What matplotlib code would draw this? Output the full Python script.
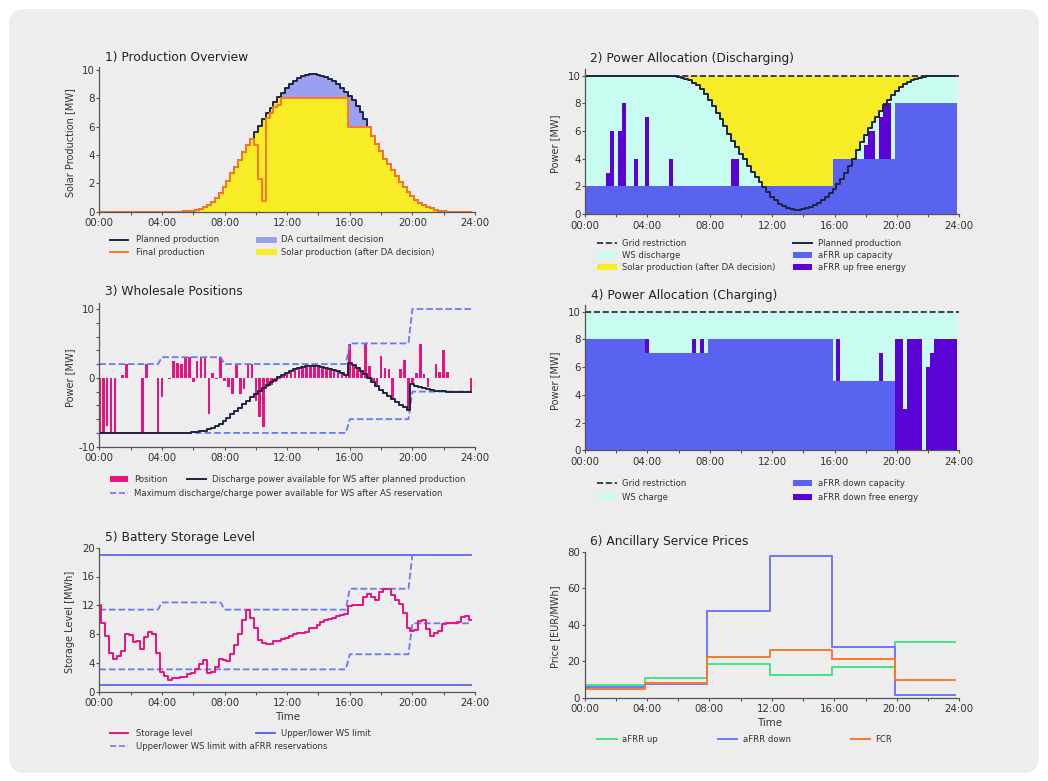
import numpy as np
import matplotlib
matplotlib.use("Agg")
import matplotlib.pyplot as plt
from matplotlib.patches import FancyBboxPatch, Patch
from matplotlib.lines import Line2D

plt.rcParams['font.family'] = ['DejaVu Sans']

# ---------------- data (15-min resolution, 96 intervals) ----------------
t = np.arange(96) * 0.25
hours = list(range(0, 25, 2))

planned = [0]*22 + [0.02, 0.04, 0.08, 0.13, 0.22, 0.33, 0.5, 0.7, 0.95, 1.3,
                    1.75, 2.2, 2.7, 3.15, 3.65, 4.2, 4.7, 5.15, 5.65, 6.05,
                    6.52, 6.94, 7.34, 7.72, 8.07, 8.4, 8.75, 9.0, 9.25, 9.45,
                    9.58, 9.65, 9.7, 9.7, 9.65, 9.58, 9.5, 9.35, 9.2, 9.0,
                    8.75, 8.47, 8.2, 7.85, 7.45, 7.05, 6.55, 6.0, 5.35, 4.8,
                    4.3, 3.75, 3.35, 2.95, 2.55, 2.1, 1.75, 1.4, 1.12, 0.85,
                    0.63, 0.47, 0.33, 0.23, 0.14, 0.07, 0.02] + [0]*7
da_limit = [10]*47 + [8]*17 + [6]*5 + [10]*27
final_dev_idx = [40, 41, 42, 43, 44, 45, 46]
final_dev_val = [4.7, 2.3, 0.75, 6.6, 6.95, 7.4, 7.5]

grid_limit = 10
afrr_up_cap = [2]*64 + [4]*16 + [8]*16
afrr_up_free = ([0]*6 + [1, 4, 0, 4, 6, 0, 0, 2, 0, 0, 5] + [0]*5 + [2] + [0]*15
                + [2, 2] + [0]*32 + [1, 2, 2, 0, 3, 4, 4] + [0]*17)

positions = [-8, -8, -7, -8, -8, 0, 0.4, 2.0, 0, 0, 0, -8, 2.0, 0, 0, -8,
             -2.8, 0, -0.1, 2.4, 2.2, 2.0, 3.0, 3.0, -0.6, 2.5, 3.0, 3.0, -5.3, 0.7, -0.1, 3.0,
             -0.5, -1.4, -2.3, 2.0, -2.4, -1.6, 2.0, 2.0, -3.3, -5.7, -7.1, -1.4, -1.0, -0.6, -0.2, 0.3,
             0.7, 1.0, 1.2, 1.4, 1.55, 1.65, 1.7, 1.7, 1.65, 1.55, 1.45, 1.3, 1.15, 0.95, 0.7, 0.45,
             4.9, 1.85, 1.45, 1.0, 5.0, 1.75, -0.65, -1.2, 3.15, 1.5, 1.25, -3.25, 0, 1.25, 2.6, -4.7,
             -1.0, 0.7, 4.9, 0.5, -1.4, 0, 2.0, 0.9, 4.0, 0.8, 0, 0, 0, 0, 0, -1.9]
ws_max_discharge = [2]*16 + [3]*16 + [2]*32 + [5]*16 + [10]*16
ws_max_charge = [-8]*64 + [-6]*16 + [-2]*16

afrr_down_cap = [8]*16 + [7]*16 + [8]*32 + [5]*16 + [0]*16
afrr_down_free = ([0]*16 + [1] + [0]*11 + [1, 0, 1] + [0]*34 + [3] + [0]*10 + [2] + [0]*3
                  + [8, 8, 3, 8, 8, 8, 8, 0, 6, 7, 8, 8, 8, 8, 8, 8])

storage = [12.0, 9.6, 7.7, 5.4, 4.5, 5.0, 5.7, 8.0, 7.9, 6.9, 7.0, 6.0, 7.6, 8.3, 8.0, 5.4,
           2.8, 2.2, 1.6, 1.85, 1.9, 2.1, 2.1, 2.4, 2.6, 3.2, 3.9, 4.4, 2.6, 2.7, 3.4, 4.6,
           4.4, 4.3, 5.2, 6.5, 8.0, 9.9, 11.4, 10.3, 8.8, 7.2, 6.7, 6.6, 6.6, 7.0, 7.1, 7.3,
           7.5, 7.7, 8.0, 8.2, 8.2, 8.3, 8.8, 8.9, 9.3, 9.7, 9.9, 10.1, 10.3, 10.5, 10.7, 10.8,
           11.9, 12.0, 12.1, 12.1, 13.1, 13.6, 13.1, 12.7, 13.8, 14.3, 14.3, 13.4, 12.7, 12.2, 10.9, 8.8,
           8.4, 8.6, 9.8, 9.9, 8.7, 7.7, 8.1, 8.4, 9.4, 9.5, 9.6, 9.6, 9.7, 10.4, 10.5, 10.0]
ws_upper_limit = 19
ws_lower_limit = 1
ws_upper_afrr = [11.4]*16 + [12.4]*16 + [11.4]*32 + [14.3]*16 + [19]*16
ws_lower_afrr = [3.1]*64 + [5.2]*16 + [9.5]*16

price_blocks = 16
afrr_up_price = [7.0, 10.9, 18.6, 12.2, 16.8, 30.5]
afrr_down_price = [6.0, 7.3, 47.5, 77.6, 28.0, 1.3]
fcr_price = [4.75, 7.85, 22.3, 26.1, 21.2, 9.7]

# ---------------- colours ----------------
navy = '#1c2541'
orange = '#f7792b'
yellow = '#f8ec27'
curt_blue = '#9a9ff1'
cyan = '#c8fcf0'
cap_blue = '#5a63ef'
purple = '#5b02d6'
pink = '#e9127f'
dash_blue = '#6c78f2'
lim_blue = '#5b67f0'
green = '#45e08c'
price_blue = '#7077f5'
txt = '#333333'

planned = np.array(planned, float)
solar_da = np.minimum(planned, np.array(da_limit, float))
curtail = planned - solar_da
final = solar_da.copy()
final[final_dev_idx] = final_dev_val

W, H = 1048, 781
fig = plt.figure(figsize=(W / 100, H / 100), dpi=100)
fig.patch.set_facecolor('white')
fig.patches.append(FancyBboxPatch((0.09, 0.08), 10.30, 7.64,
                                  boxstyle='round,pad=0,rounding_size=0.16',
                                  transform=fig.dpi_scale_trans, facecolor='#ededed',
                                  edgecolor='none', zorder=-10))


def make_ax(x0, x1, ytop, ybot):
    return fig.add_axes([x0 / W, 1 - ybot / H, (x1 - x0) / W, (ybot - ytop) / H])


def style(ax, ylim, yticks, ylabels=None):
    ax.set_facecolor('none')
    for s in ['top', 'right']:
        ax.spines[s].set_visible(False)
    for s in ['left', 'bottom']:
        ax.spines[s].set_color('#555555')
        ax.spines[s].set_linewidth(0.9)
    ax.set_xlim(0, 24)
    ax.set_ylim(*ylim)
    ax.set_xticks(hours)
    ax.set_xticklabels([f'{h:02d}:00' if h % 4 == 0 else '' for h in hours])
    ax.set_yticks(yticks)
    if ylabels is not None:
        ax.set_yticklabels(ylabels)
    ax.tick_params(axis='both', direction='out', length=2.4, width=0.8, colors='#555555',
                   labelcolor=txt, labelsize=7.4)
    ax.tick_params(axis='x', pad=2.4)
    ax.tick_params(axis='y', pad=0.8)


def title(x, y, s):
    fig.text(x / W, 1 - y / H, s, ha='left', va='center', fontsize=8.8, color='#222222')


def ylab(x, y, s):
    fig.text(x / W, 1 - y / H, s, ha='center', va='center', rotation=90, fontsize=7, color=txt)


def xlab(x, y, s):
    fig.text(x / W, 1 - y / H, s, ha='center', va='center', fontsize=7.4, color=txt)


def leg(handle, label, hx0, hx1, tx, y, fs=6.1):
    fpx = fs * 100 / 72
    fig.legend([handle], [label], loc='center left', bbox_to_anchor=(hx0 / W, 1 - y / H),
               bbox_transform=fig.transFigure, frameon=False, fontsize=fs,
               handlelength=(hx1 - hx0) / fpx, handletextpad=(tx - hx1) / fpx,
               borderpad=0, borderaxespad=0, labelcolor=txt)


def line_h(c, ls='-', lw=1.4):
    return Line2D([], [], color=c, ls=ls, lw=lw)


def patch_h(c):
    return Patch(facecolor=c, edgecolor='none')


# ---------------- 1) Production overview ----------------
ax1 = make_ax(99.3, 475, 67.2, 211.7)
ax1.bar(t, solar_da, width=0.25, color=yellow, lw=0)
ax1.bar(t, curtail, bottom=solar_da, width=0.25, color=curt_blue, lw=0)
ax1.plot(t, planned, drawstyle='steps-mid', color=navy, lw=1.4)
ax1.plot(t, final, drawstyle='steps-mid', color=orange, lw=1.4)
style(ax1, (0, 10.2), range(0, 11, 2))
title(105, 57, '1) Production Overview')
ylab(70, 143, 'Solar Production [MW]')
leg(line_h(navy), 'Planned production', 110, 128.3, 136, 240)
leg(line_h(orange), 'Final production', 110, 128.3, 136, 252.7)
leg(patch_h(curt_blue), 'DA curtailment decision', 256, 276.7, 280.7, 240)
leg(patch_h(yellow), 'Solar production (after DA decision)', 256, 276.7, 280.7, 252.7)

# ---------------- 2) Power allocation (discharging) ----------------
ax2 = make_ax(585, 959.3, 68.8, 214)
cap_u = np.array(afrr_up_cap, float)
free_u = np.array(afrr_up_free, float)
ws_dis = np.maximum(0, grid_limit - solar_da - cap_u - free_u)
ax2.bar(t, solar_da, bottom=grid_limit - solar_da, width=0.25, color=yellow, lw=0)
ax2.bar(t, ws_dis, bottom=cap_u + free_u, width=0.25, color=cyan, lw=0)
ax2.bar(t, cap_u, width=0.25, color=cap_blue, lw=0)
ax2.bar(t, free_u, bottom=cap_u, width=0.25, color=purple, lw=0)
ax2.axhline(grid_limit, ls='--', color=navy, lw=1.2)
ax2.plot(t, grid_limit - planned, drawstyle='steps-mid', color=navy, lw=1.4)
style(ax2, (0, 10.5), range(0, 11, 2))
title(590, 58.3, '2) Power Allocation (Discharging)')
ylab(555, 144, 'Power [MW]')
leg(line_h(navy, '--', 1.2), 'Grid restriction', 596.7, 616.5, 621.7, 243)
leg(patch_h(cyan), 'WS discharge', 596.7, 617.3, 621.7, 255.7)
leg(patch_h(yellow), 'Solar production (after DA decision)', 596.7, 617.3, 621.7, 267.7)
leg(line_h(navy), 'Planned production', 793.3, 812, 817.7, 243)
leg(patch_h(cap_blue), 'aFRR up capacity', 793.3, 812.3, 817.7, 255.7)
leg(patch_h(purple), 'aFRR up free energy', 793.3, 812.3, 817.7, 267.7)

# ---------------- 3) Wholesale positions ----------------
ax3 = make_ax(99.3, 475, 302.8, 446.7)
lower = np.array(ws_max_charge, float)
ax3.bar(t, positions, width=0.17, color=pink, lw=0)
ax3.plot(t, ws_max_discharge, ls='--', color=dash_blue, lw=1.3)
ax3.plot(t, ws_max_charge, ls='--', color=dash_blue, lw=1.3)
ax3.plot(t, lower + planned, drawstyle='steps-mid', color=navy, lw=1.4)
style(ax3, (-10, 10.9), range(-10, 11, 2),
      ['-10', '', '', '', '', '0', '', '', '', '', '10'])
title(105, 291.7, '3) Wholesale Positions')
ylab(70, 378, 'Power [MW]')
leg(patch_h(pink), 'Position', 110, 128.3, 134, 479.3)
leg(line_h(navy), 'Discharge power available for WS after planned production', 186.7, 205.7, 211.7, 479.3)
leg(line_h(dash_blue, '--', 1.2), 'Maximum discharge/charge power available for WS after AS reservation',
    110, 128.3, 134, 493.3)

# ---------------- 4) Power allocation (charging) ----------------
ax4 = make_ax(585, 959.3, 304.8, 450.3)
cap_d = np.array(afrr_down_cap, float)
free_d = np.array(afrr_down_free, float)
ws_chg = grid_limit - cap_d - free_d
ax4.bar(t, cap_d, width=0.25, color=cap_blue, lw=0)
ax4.bar(t, free_d, bottom=cap_d, width=0.25, color=purple, lw=0)
ax4.bar(t, ws_chg, bottom=cap_d + free_d, width=0.25, color=cyan, lw=0)
ax4.axhline(grid_limit, ls='--', color=navy, lw=1.2)
style(ax4, (0, 10.5), range(0, 11, 2))
title(590.7, 295, '4) Power Allocation (Charging)')
ylab(555, 381, 'Power [MW]')
leg(line_h(navy, '--', 1.2), 'Grid restriction', 596.7, 616.5, 621.7, 483.7)
leg(patch_h(cyan), 'WS charge', 596.7, 617.3, 621.7, 497.7)
leg(patch_h(cap_blue), 'aFRR down capacity', 793.3, 812.3, 817.7, 483.7)
leg(patch_h(purple), 'aFRR down free energy', 793.3, 812.3, 817.7, 497.7)

# ---------------- 5) Battery storage level ----------------
ax5 = make_ax(99.3, 475, 547.7, 691.7)
ax5.plot(t, [ws_upper_limit] * len(t), color=lim_blue, lw=1.3)
ax5.plot(t, [ws_lower_limit] * len(t), color=lim_blue, lw=1.3)
ax5.plot(t, ws_upper_afrr, ls='--', color=dash_blue, lw=1.3)
ax5.plot(t, ws_lower_afrr, ls='--', color=dash_blue, lw=1.3)
ax5.plot(t, storage, drawstyle='steps-mid', color=pink, lw=1.4)
style(ax5, (0, 20), range(0, 21, 4))
title(105, 537.3, '5) Battery Storage Level')
ylab(70, 622, 'Storage Level [MWh]')
xlab(287.7, 717, 'Time')
leg(line_h(pink), 'Storage level', 110, 128.3, 136, 733.3)
leg(line_h(lim_blue), 'Upper/lower WS limit', 256, 275, 280.7, 733.3)
leg(line_h(dash_blue, '--', 1.2), 'Upper/lower WS limit with aFRR reservations', 110, 128.3, 136, 746.7)

# ---------------- 6) Ancillary service prices ----------------
ax6 = make_ax(584.5, 959.3, 551.7, 697.7)
ax6.plot(t, np.repeat(afrr_up_price, price_blocks), drawstyle='steps-mid', color=green, lw=1.4)
ax6.plot(t, np.repeat(afrr_down_price, price_blocks), drawstyle='steps-mid', color=price_blue, lw=1.4)
ax6.plot(t, np.repeat(fcr_price, price_blocks), drawstyle='steps-mid', color=orange, lw=1.4)
style(ax6, (0, 80), range(0, 81, 20))
title(590, 541.7, '6) Ancillary Service Prices')
ylab(555, 627, 'Price [EUR/MWh]')
xlab(770, 723, 'Time')
leg(line_h(green), 'aFRR up', 597.3, 616.7, 621.7, 739)
leg(line_h(price_blue), 'aFRR down', 717.7, 737.3, 742.7, 739)
leg(line_h(orange), 'FCR', 850.7, 870, 875, 739)

fig.savefig('out.png', dpi=100, facecolor=fig.get_facecolor())
